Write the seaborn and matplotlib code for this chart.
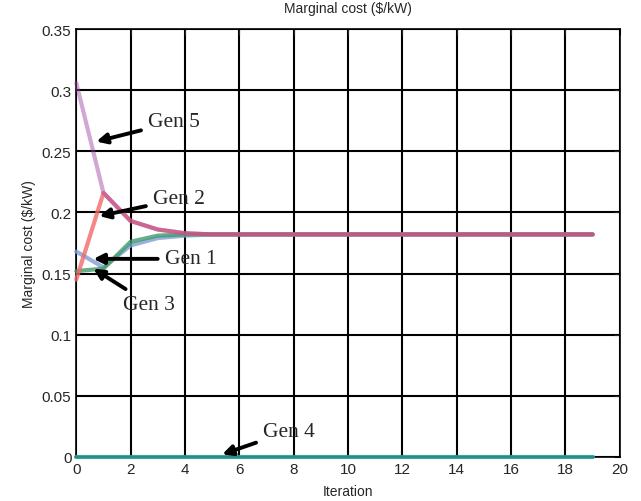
import numpy as np
import pandas as pd
import seaborn as sb
import matplotlib.pyplot as plt

iteration = list(range(20))
gen1 = [0.168, 0.155, 0.173, 0.179, 0.181, 0.182] + [0.182] * 14
gen2 = [0.145, 0.216, 0.193, 0.186, 0.183, 0.182] + [0.182] * 14
gen3 = [0.152, 0.154, 0.176, 0.181, 0.182, 0.182] + [0.182] * 14
gen4 = [0.0] * 20
gen5 = [0.306, 0.216, 0.193, 0.186, 0.183, 0.182] + [0.182] * 14

sb.set_style('white')
plt.rcParams['font.family'] = ['Liberation Sans', 'DejaVu Sans']

fig, ax = plt.subplots(figsize=(6.41, 5.02), dpi=100)
fig.subplots_adjust(left=0.119, right=0.967, top=0.94, bottom=0.088)

# ordem de desenho: as de cima ficam por cima
series = [
    ('Gen 4', gen4, '#2a9a98', 0.9),
    ('Gen 1', gen1, '#7f9fd8', 0.8),
    ('Gen 3', gen3, '#3f9a6a', 0.8),
    ('Gen 2', gen2, '#f26a6a', 0.8),
    ('Gen 5', gen5, '#9b3fa0', 0.45),
]
for name, vals, cor, a in series:
    df = pd.DataFrame({'Iteration': iteration, 'cost': vals})
    sb.lineplot(data=df, x='Iteration', y='cost', color=cor, alpha=a,
                linewidth=3, ax=ax, clip_on=False, zorder=3)

ax.set_xlim(0, 20)
ax.set_ylim(0, 0.35)
ax.set_xticks(np.arange(0, 21, 2))
ax.set_yticks(np.arange(0, 0.351, 0.05))
ax.set_yticklabels(['0', '0.05', '0.1', '0.15', '0.2', '0.25', '0.3', '0.35'])
ax.grid(True, color='black', linewidth=1.5)
ax.set_axisbelow(True)
ax.tick_params(direction='in', labelsize=11, length=4, top=True, right=True)
for s in ax.spines.values():
    s.set_color('black')
    s.set_linewidth(1.2)

ax.set_title('Marginal cost ($/kW)', fontsize=10, pad=12)
ax.set_xlabel('Iteration', fontsize=10, labelpad=6)
ax.set_ylabel('Marginal cost ($/kW)', fontsize=10)

# rótulos com setas
notas = [
    ('Gen 5', (0.74, 0.258), (2.65, 0.274)),
    ('Gen 2', (0.85, 0.197), (2.83, 0.211)),
    ('Gen 1', (0.63, 0.162), (3.27, 0.162)),
    ('Gen 3', (0.63, 0.154), (1.73, 0.125)),
    ('Gen 4', (5.37, 0.002), (6.88, 0.021)),
]
for txt, xy, xytext in notas:
    ax.annotate(txt, xy=xy, xytext=xytext, fontsize=15.5, family='Liberation Serif',
                va='center', ha='left', zorder=5,
                arrowprops=dict(arrowstyle='-|>', color='black', lw=2.8,
                                mutation_scale=15, shrinkA=3, shrinkB=0))

plt.savefig('out.png', dpi=100)
